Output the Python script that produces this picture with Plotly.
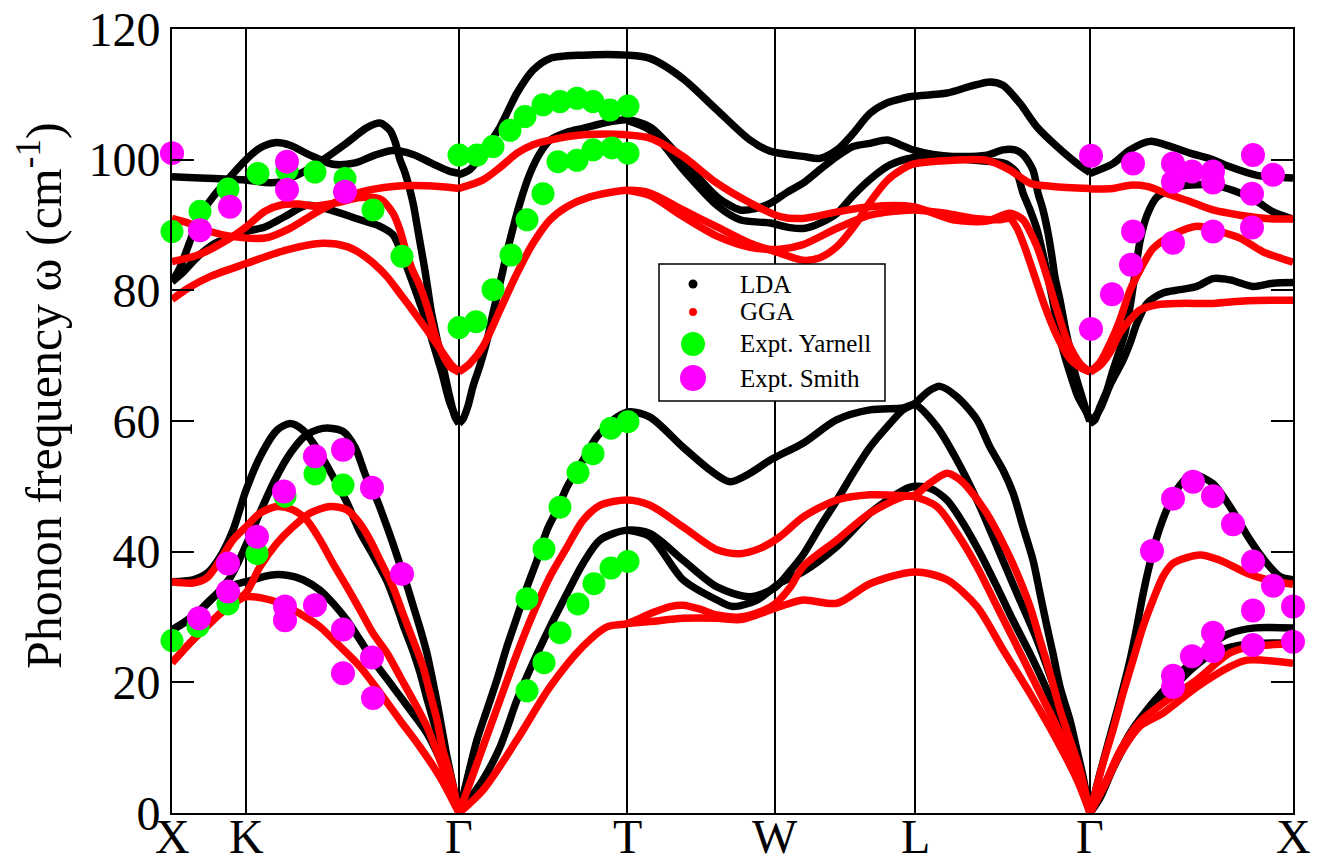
import plotly.graph_objects as go

FONT = "Liberation Serif"

# ---------------- k-path (high-symmetry points) ----------------
KPTS = [0, 74, 287, 455, 603, 743, 918, 1121]
KLABELS = ["X", "K", "Γ", "T", "W", "L", "Γ", "X"]

# ---------------- LDA bands (k, omega in cm^-1) ----------------
# X-K-Gamma, optical
LDA_XG_O1 = [(0, 97.4), (28, 97.2), (58, 97.0), (74, 96.9), (93, 96.5), (108, 96.6), (123, 97.5), (138, 98.7),
             (155, 100.4), (175, 102.6), (195, 104.9), (208, 105.6), (218, 104.5), (223, 102.8), (228, 100.0),
             (233, 98.0), (241, 93.4), (245, 90.0), (249, 86.5), (253, 83.0), (256, 80.0), (259, 77.0),
             (263, 74.0), (268, 70.5), (273, 67.0), (278, 63.5), (283, 60.6), (287, 59.6)]
LDA_XG_O2 = [(0, 81.3), (8, 83.5), (18, 87.5), (28, 91.5), (42, 94.5), (56, 97.0), (74, 100.0), (88, 101.8),
             (103, 102.6), (118, 102.2), (138, 100.7), (161, 99.3), (183, 99.5), (203, 100.7), (221, 101.4),
             (241, 100.8), (263, 99.2), (278, 98.2), (287, 97.9)]
LDA_XG_O3 = [(0, 81.3), (10, 82.6), (26, 85.2), (43, 87.2), (60, 88.2), (74, 89.0), (93, 89.7), (113, 91.3),
             (135, 93.0), (158, 92.3), (188, 90.8), (208, 89.8), (221, 88.5), (228, 86.3), (235, 83.5),
             (241, 81.0), (248, 78.0), (255, 75.0), (261, 71.9), (270, 67.3), (278, 62.7), (287, 59.6)]
# X-K-Gamma, acoustic
LDA_XG_A1 = [(0, 35.4), (21, 35.7), (35, 36.7), (48, 39.2), (61, 43.3), (74, 49.4), (88, 54.5), (105, 58.6),
             (118, 59.6), (131, 58.6), (146, 55.5), (161, 51.5), (175, 47.5), (188, 43.0), (201, 39.5),
             (215, 35.5), (225, 31.5), (233, 28.0), (241, 24.8), (248, 21.5), (255, 17.5), (265, 12.2),
             (275, 7.1), (281, 3.5), (287, 0.0)]
LDA_XG_A2 = [(0, 28.0), (28, 31.0), (58, 36.0), (74, 41.0), (88, 46.0), (103, 51.0), (118, 55.0), (133, 57.7),
             (146, 58.7), (158, 58.9), (171, 58.4), (183, 56.0), (194, 51.5), (205, 47.9), (215, 43.8),
             (221, 41.2), (228, 38.0), (235, 34.8), (241, 31.8), (248, 28.3), (255, 24.4), (260, 20.8),
             (265, 17.0), (270, 12.8), (275, 8.6), (281, 4.3), (287, 0.0)]
LDA_XG_A3 = [(0, 28.0), (21, 30.0), (38, 32.6), (55, 34.6), (74, 35.4), (98, 36.4), (115, 36.4), (131, 35.7),
             (148, 34.1), (161, 32.1), (175, 29.5), (188, 26.5), (201, 23.4), (221, 19.3), (238, 15.8),
             (255, 12.2), (271, 7.1), (287, 0.0)]
# Gamma-T-W-L-Gamma, optical
LDA_GG_O1 = [(287, 97.7), (298, 98.5), (311, 101.0), (328, 105.0), (345, 110.2), (361, 113.7), (378, 115.5),
             (411, 116.0), (455, 116.0), (478, 115.5), (511, 112.4), (545, 107.6), (578, 103.0), (598, 101.3),
             (631, 100.5), (648, 100.2), (665, 101.5), (681, 104.0), (698, 107.1), (715, 108.7), (731, 109.4),
             (741, 109.7), (775, 110.2), (798, 111.2), (818, 111.9), (831, 111.4), (848, 108.6), (865, 105.0),
             (885, 102.0), (905, 99.4), (918, 98.0)]
LDA_GG_O2 = [(287, 59.6), (291, 60.3), (296, 62.3), (301, 65.3), (308, 68.5), (315, 72.3), (321, 76.5),
             (328, 81.1), (338, 87.7), (348, 93.4), (358, 97.9), (368, 101.0), (378, 103.0), (395, 104.2),
             (411, 104.8), (438, 105.8), (455, 106.1), (478, 105.0), (511, 99.9), (545, 94.3), (568, 92.3),
             (583, 92.5), (598, 93.3), (615, 95.0), (631, 96.4), (648, 98.5), (665, 100.5), (681, 102.0),
             (698, 102.5), (715, 103.0), (728, 102.3), (741, 101.5), (761, 100.8), (781, 100.5), (815, 100.7),
             (831, 101.5), (843, 101.5), (851, 100.8), (861, 98.4), (866, 94.9), (871, 92.3), (876, 88.8),
             (880, 85.1), (883, 82.0), (888, 78.5), (893, 74.4), (898, 70.9), (903, 67.3), (910, 63.7),
             (915, 61.2), (918, 60.0)]
LDA_GG_O3 = [(455, 106.0), (478, 104.5), (511, 98.5), (545, 93.0), (568, 90.8), (598, 90.3), (618, 89.6),
             (633, 89.5), (648, 90.3), (665, 91.8), (681, 94.5), (698, 97.0), (718, 99.2), (741, 100.3),
             (763, 100.4), (783, 100.2), (803, 99.9), (831, 99.5), (838, 99.0), (845, 97.9), (851, 94.9),
             (858, 92.3), (865, 89.3), (870, 86.2), (875, 82.7), (880, 79.0), (885, 75.0), (891, 70.9),
             (898, 67.3), (906, 63.7), (915, 61.2), (918, 60.0)]
# Gamma-T-W-L-Gamma, acoustic
LDA_GG_A1 = [(287, 0.0), (295, 5.1), (305, 11.2), (315, 15.8), (325, 20.4), (335, 25.5), (345, 30.0),
             (355, 34.6), (365, 38.7), (375, 43.3), (385, 46.4), (395, 49.9), (411, 54.0), (425, 57.6),
             (445, 60.6), (458, 61.4), (478, 60.6), (511, 56.0), (538, 52.5), (558, 50.7), (578, 52.0),
             (598, 54.0), (608, 54.8), (631, 56.6), (665, 60.2), (698, 61.7), (731, 62.0), (743, 62.5),
             (765, 59.1), (785, 54.0), (805, 47.9), (825, 40.8), (845, 33.6), (865, 26.5), (885, 18.0),
             (901, 10.5), (918, 0.0)]
LDA_GG_A2 = [(287, 0.0), (311, 5.1), (328, 10.1), (345, 17.3), (361, 23.0), (378, 28.5), (395, 33.6),
             (411, 38.2), (428, 41.8), (455, 43.3), (478, 42.8), (511, 38.7), (545, 34.6), (578, 33.1),
             (603, 34.5), (618, 37.0), (631, 39.5), (648, 43.8), (665, 47.9), (681, 52.0), (698, 56.0),
             (715, 59.1), (731, 61.7), (743, 62.7), (756, 64.5), (768, 65.3), (785, 63.7), (805, 60.2),
             (818, 56.0), (831, 52.5), (841, 49.0), (851, 43.8), (861, 38.7), (868, 33.6), (875, 28.5),
             (881, 24.4), (888, 19.3), (898, 14.2), (905, 9.6), (911, 5.6), (918, 0.0)]
LDA_GG_A3 = [(455, 43.3), (478, 42.3), (511, 35.7), (545, 32.6), (561, 31.6), (585, 32.6), (608, 35.2),
             (631, 36.9), (665, 40.8), (698, 45.9), (731, 49.4), (743, 50.0), (758, 49.7), (775, 47.9),
             (791, 44.4), (808, 39.8), (825, 34.6), (841, 29.5), (858, 24.4), (875, 18.8), (891, 12.7),
             (905, 7.1), (918, 0.0)]
# Gamma-X, optical
LDA_GX_O1 = [(918, 97.9), (941, 99.4), (958, 101.5), (978, 102.8), (995, 102.2), (1018, 101.0), (1041, 100.0),
             (1058, 98.9), (1085, 97.6), (1121, 97.2)]
LDA_GX_O2 = [(918, 59.6), (923, 60.2), (928, 62.2), (935, 64.7), (941, 67.8), (948, 71.0), (953, 73.5),
             (958, 77.5), (963, 82.5), (968, 87.5), (975, 91.5), (985, 94.3), (1008, 95.9), (1041, 96.1),
             (1068, 94.9), (1085, 93.6), (1101, 92.0), (1121, 90.9)]
LDA_GX_O3 = [(918, 59.6), (928, 61.8), (938, 65.5), (951, 69.3), (958, 71.9), (965, 75.0), (975, 78.0),
             (991, 79.6), (1008, 80.1), (1025, 80.6), (1041, 81.8), (1058, 81.6), (1081, 80.6), (1101, 81.1),
             (1121, 81.2)]
# Gamma-X, acoustic
LDA_GX_A1 = [(918, 0.0), (928, 6.1), (938, 11.7), (948, 17.3), (958, 23.4), (965, 28.6), (971, 33.5),
             (978, 38.3), (985, 42.3), (995, 46.5), (1008, 50.2), (1021, 51.8), (1041, 50.4), (1058, 46.9),
             (1078, 41.8), (1095, 38.2), (1108, 36.2), (1121, 35.7)]
LDA_GX_A2 = [(918, 0.0), (928, 2.5), (941, 7.1), (958, 12.2), (975, 15.8), (995, 19.3), (1018, 22.9),
             (1041, 26.0), (1058, 27.5), (1081, 28.3), (1121, 28.3)]
LDA_GX_A3 = [(918, 0.0), (928, 2.3), (941, 6.8), (958, 11.7), (975, 15.3), (995, 18.3), (1018, 21.8),
             (1041, 24.5), (1068, 25.7), (1093, 26.0), (1121, 26.0)]

# ---------------- GGA bands ----------------
GGA_XG_O1 = [(0, 91.0), (18, 90.2), (38, 89.0), (58, 88.3), (93, 88.0), (118, 89.5), (143, 91.8), (168, 93.8),
             (188, 95.0), (221, 95.9), (255, 96.0), (287, 95.6)]
GGA_XG_O2 = [(0, 84.4), (26, 85.4), (53, 87.5), (74, 89.7), (93, 92.1), (110, 93.1), (126, 93.2), (143, 92.9),
             (168, 93.5), (188, 94.2), (208, 94.0), (221, 91.8), (228, 89.2), (233, 86.5), (240, 83.3),
             (246, 81.3), (251, 79.4), (258, 76.0), (263, 73.2), (270, 70.4), (278, 68.3), (287, 67.5)]
GGA_XG_O3 = [(0, 78.6), (18, 80.5), (38, 82.1), (74, 84.1), (115, 86.2), (151, 87.2), (175, 86.7), (188, 85.7),
             (201, 84.2), (215, 82.1), (228, 79.5), (238, 77.5), (255, 73.9), (271, 70.4), (280, 68.5),
             (287, 67.6)]
GGA_XG_A1 = [(0, 35.4), (21, 35.2), (35, 36.0), (48, 38.7), (61, 41.8), (74, 43.8), (88, 45.9), (105, 46.9),
             (121, 46.4), (135, 44.8), (148, 41.8), (161, 38.2), (175, 34.6), (188, 31.1), (201, 27.5),
             (215, 24.5), (228, 20.9), (241, 17.3), (255, 13.2), (268, 8.1), (281, 2.5), (287, 0.0)]
GGA_XG_A2 = [(0, 23.0), (21, 26.5), (41, 29.5), (55, 31.6), (74, 33.7), (88, 37.7), (105, 41.3), (121, 43.8),
             (138, 45.9), (158, 46.9), (175, 46.4), (188, 44.3), (198, 41.8), (208, 38.7), (221, 34.6),
             (231, 30.5), (241, 26.5), (251, 22.4), (258, 18.3), (265, 14.2), (271, 9.6), (278, 6.0),
             (287, 0.0)]
GGA_XG_A3 = [(0, 23.0), (21, 26.5), (41, 29.5), (55, 31.3), (74, 33.1), (105, 32.3), (128, 30.5), (148, 28.5),
             (168, 25.5), (188, 22.4), (208, 18.4), (228, 14.2), (248, 10.1), (268, 5.5), (287, 0.0)]
GGA_GG_O1 = [(287, 95.6), (311, 96.9), (328, 98.8), (345, 101.0), (361, 102.3), (378, 103.0), (411, 103.8),
             (455, 103.8), (478, 103.3), (511, 100.5), (545, 96.4), (578, 93.4), (608, 91.3), (631, 91.0),
             (665, 92.0), (698, 92.8), (741, 92.8), (781, 90.8), (815, 90.6), (838, 91.8), (851, 90.8),
             (858, 89.0), (865, 86.7), (875, 82.1), (885, 77.0), (895, 72.4), (908, 68.8), (918, 67.5)]
GGA_GG_O2 = [(287, 67.5), (298, 68.8), (311, 71.4), (328, 77.0), (345, 82.6), (361, 87.2), (378, 90.8),
             (395, 92.8), (418, 94.3), (455, 95.3), (478, 94.9), (511, 92.3), (545, 89.7), (578, 87.2),
             (608, 85.7), (631, 84.6), (648, 85.0), (665, 86.7), (683, 90.0), (698, 93.5), (715, 96.8),
             (731, 98.6), (741, 99.3), (781, 99.9), (815, 99.9), (838, 98.4), (858, 96.4), (881, 95.9),
             (918, 95.6)]
GGA_GG_O3 = [(455, 95.3), (478, 94.5), (511, 91.3), (545, 88.3), (578, 86.6), (608, 86.3), (631, 87.0),
             (665, 89.5), (698, 91.5), (741, 92.3), (773, 91.8), (803, 91.0), (828, 90.8), (838, 91.0),
             (845, 89.5), (853, 86.5), (863, 82.0), (873, 77.5), (885, 73.0), (898, 69.5), (908, 68.2),
             (918, 67.5)]
GGA_GG_A1 = [(287, 0.0), (305, 7.6), (328, 17.3), (345, 24.4), (361, 30.5), (378, 36.2), (395, 40.7),
             (411, 44.8), (428, 47.1), (455, 47.9), (478, 47.1), (511, 43.8), (545, 40.3), (568, 39.7),
             (588, 40.5), (608, 42.3), (631, 45.3), (665, 47.9), (698, 48.7), (728, 48.6), (743, 48.4),
             (765, 46.9), (785, 42.8), (805, 37.7), (825, 31.6), (845, 25.5), (865, 19.3), (885, 13.2),
             (905, 6.6), (918, 0.0)]
GGA_GG_A2 = [(287, 0.0), (311, 3.5), (345, 11.2), (378, 19.3), (411, 25.5), (435, 28.5), (455, 29.0),
             (478, 30.5), (498, 31.6), (511, 31.8), (528, 31.2), (545, 30.3), (568, 30.0), (588, 30.8),
             (603, 32.0), (618, 34.5), (631, 37.7), (665, 41.8), (698, 45.9), (731, 48.4), (743, 48.7),
             (758, 50.5), (775, 52.0), (788, 51.0), (798, 49.4), (815, 45.8), (831, 41.3), (845, 36.7),
             (858, 31.6), (868, 26.5), (878, 21.4), (888, 15.8), (898, 11.2), (908, 6.6), (918, 0.0)]
GGA_GG_A3 = [(455, 29.0), (478, 29.3), (511, 29.8), (545, 29.8), (568, 29.6), (588, 30.5), (608, 31.6),
             (631, 32.6), (665, 32.1), (698, 35.1), (743, 36.9), (775, 35.7), (805, 31.6), (831, 25.0),
             (858, 18.3), (881, 12.2), (905, 5.1), (918, 0.0)]
GGA_GX_O1 = [(918, 95.5), (941, 95.6), (958, 96.1), (975, 95.9), (995, 94.8), (1018, 93.6), (1041, 92.3),
             (1068, 91.5), (1095, 91.0), (1121, 90.9)]
GGA_GX_O2 = [(918, 67.5), (928, 69.0), (938, 71.9), (948, 75.5), (958, 80.0), (968, 83.1), (981, 86.4),
             (1001, 88.5), (1025, 89.8), (1048, 89.0), (1068, 88.0), (1091, 85.9), (1121, 84.3)]
GGA_GX_O3 = [(918, 67.5), (928, 68.5), (938, 70.5), (948, 73.5), (958, 75.5), (968, 77.0), (985, 77.8),
             (1008, 78.0), (1041, 78.0), (1075, 78.4), (1121, 78.5)]
GGA_GX_A1 = [(918, 0.0), (931, 7.6), (941, 12.7), (951, 18.3), (961, 23.4), (971, 28.5), (981, 32.6),
             (991, 36.2), (1001, 38.2), (1028, 39.5), (1048, 38.7), (1075, 36.7), (1095, 35.7), (1121, 35.0)]
GGA_GX_A2 = [(918, 0.0), (933, 4.5), (948, 9.5), (968, 14.0), (991, 16.8), (1025, 20.4), (1058, 24.5),
             (1081, 25.5), (1121, 25.9)]
GGA_GX_A3 = [(918, 0.0), (933, 4.3), (948, 9.0), (968, 13.3), (991, 15.3), (1025, 19.3), (1058, 22.4),
             (1075, 23.4), (1121, 22.9)]

# ---------------- Experimental points ----------------
YARNELL = [(0, 89.0), (28, 92.1), (56, 95.5), (86, 97.9), (115, 98.4), (143, 98.1), (173, 97.1), (201, 92.3),
           (230, 85.2),
           (287, 100.7), (305, 100.7), (321, 102.0), (338, 104.5), (353, 106.6), (371, 108.4), (388, 108.9),
           (405, 109.4), (421, 108.9), (438, 107.6), (456, 108.2),
           (386, 99.7), (405, 99.9), (421, 101.5), (440, 101.8), (456, 101.0),
           (371, 94.8), (355, 90.8), (339, 85.4), (321, 80.1), (304, 75.2), (287, 74.3),
           (0, 26.4), (26, 28.6), (56, 32.0), (85, 39.7), (113, 48.5), (143, 51.9), (171, 50.2),
           (456, 59.9), (439, 58.9), (421, 55.0), (406, 52.1), (388, 46.8), (372, 40.4), (355, 32.8),
           (456, 38.5), (439, 37.5), (422, 35.1), (406, 32.0), (388, 27.6), (372, 23.0), (355, 18.7)]
SMITH = [(0, 101.0), (28, 89.2), (58, 92.8), (115, 99.7), (115, 95.4), (173, 95.1),
         (919, 100.6), (961, 99.4), (1001, 99.4), (1001, 96.6), (1020, 98.2), (1041, 98.2), (1041, 96.5),
         (1081, 100.7), (1101, 97.7), (1080, 94.8), (1080, 89.6), (1041, 89.0), (1001, 87.3), (961, 89.0),
         (959, 83.9), (940, 79.4), (919, 74.1),
         (27, 29.8), (56, 38.2), (56, 33.9), (85, 42.3), (112, 49.2), (143, 54.6), (171, 55.6), (200, 49.8),
         (230, 36.6), (113, 31.6), (113, 29.5), (143, 31.8), (171, 28.1), (171, 21.4), (200, 23.8),
         (201, 17.6),
         (1021, 50.7), (1001, 48.1), (1041, 48.5), (1061, 44.2), (980, 40.1), (1081, 38.5), (1101, 34.8),
         (1121, 31.6), (1081, 31.0), (1041, 27.6), (1041, 24.8), (1020, 24.0), (1001, 21.0), (1001, 19.3),
         (1081, 25.7), (1121, 26.2)]

LEGEND_NAMES = ["LDA", "GGA", "Expt. Yarnell", "Expt. Smith"]

LDA_BANDS = [LDA_XG_O1, LDA_XG_O2, LDA_XG_O3, LDA_XG_A1, LDA_XG_A2, LDA_XG_A3,
             LDA_GG_O1, LDA_GG_O2, LDA_GG_O3, LDA_GG_A1, LDA_GG_A2, LDA_GG_A3,
             LDA_GX_O1, LDA_GX_O2, LDA_GX_O3, LDA_GX_A1, LDA_GX_A2, LDA_GX_A3]
GGA_BANDS = [GGA_XG_O1, GGA_XG_O2, GGA_XG_O3, GGA_XG_A1, GGA_XG_A2, GGA_XG_A3,
             GGA_GG_O1, GGA_GG_O2, GGA_GG_O3, GGA_GG_A1, GGA_GG_A2, GGA_GG_A3,
             GGA_GX_O1, GGA_GX_O2, GGA_GX_O3, GGA_GX_A1, GGA_GX_A2, GGA_GX_A3]

fig = go.Figure()


def add_bands(bands, color):
    for band in bands:
        k, w = zip(*band)
        fig.add_trace(go.Scatter(x=list(k), y=list(w), mode="lines",
                                 line=dict(color=color, width=7.5, shape="spline", smoothing=0.8),
                                 showlegend=False, hoverinfo="skip"))


add_bands(LDA_BANDS, "#000000")
add_bands(GGA_BANDS, "#ff0000")

for pts, color, size in [(YARNELL, "#00ff00", 23), (SMITH, "#ff00ff", 24)]:
    k, w = zip(*pts)
    fig.add_trace(go.Scatter(x=list(k), y=list(w), mode="markers", cliponaxis=False,
                             marker=dict(color=color, size=size, line=dict(width=0)),
                             showlegend=False, hoverinfo="skip"))

# ---------------- manual legend (box + symbols + text) ----------------
shapes = [dict(type="rect", xref="x", yref="y", x0=487, x1=713, y0=63.06, y1=84.03,
               fillcolor="white", line=dict(color="black", width=1.5), layer="above")]
leg_y = [80.97, 76.69, 71.79, 66.58]
leg_col = ["#000000", "#ff0000", "#00ff00", "#ff00ff"]
leg_d = [9, 8, 24, 26]
annotations = []
for name, yy, c, d in zip(LEGEND_NAMES, leg_y, leg_col, leg_d):
    shapes.append(dict(type="circle", xref="x", yref="y", xsizemode="pixel", ysizemode="pixel",
                       xanchor=521, yanchor=yy, x0=-d / 2, x1=d / 2, y0=-d / 2, y1=d / 2,
                       fillcolor=c, line=dict(width=0), layer="above"))
    annotations.append(dict(x=566, y=yy, xref="x", yref="y", text=name, showarrow=False,
                            xanchor="left", yanchor="middle",
                            font=dict(family=FONT, size=25, color="black")))

# k-point labels below the axis
for kx, lab in zip(KPTS, KLABELS):
    annotations.append(dict(x=kx, y=-0.0295, xref="x", yref="paper", text=lab, showarrow=False,
                            xanchor="center", yanchor="middle",
                            font=dict(family=FONT, size=48, color="black")))

annotations.append(dict(x=-0.1178, y=0.533, xref="paper", yref="paper",
                        text="Phonon frequency ω (cm<sup>-1</sup>)", textangle=-90, showarrow=False,
                        xanchor="center", yanchor="middle",
                        font=dict(family=FONT, size=50, color="black")))

fig.update_layout(
    width=1321, height=863, autosize=False,
    margin=dict(l=172, r=28, t=29, b=50, autoexpand=False),
    paper_bgcolor="white", plot_bgcolor="white",
    showlegend=False,
    shapes=shapes, annotations=annotations,
    font=dict(family=FONT, color="black"),
)
fig.update_xaxes(range=[0, 1121], tickmode="array", tickvals=KPTS, showticklabels=False,
                 showgrid=True, gridcolor="black", gridwidth=1.5, automargin=False,
                 showline=True, linecolor="black", linewidth=2, mirror=True,
                 ticks="", zeroline=False)
fig.update_yaxes(range=[0, 120], tickmode="linear", tick0=0, dtick=20, automargin=False,
                 showgrid=False, showline=True, linecolor="black", linewidth=2, mirror="ticks",
                 ticks="inside", ticklen=22, tickwidth=2, tickcolor="black", zeroline=False,
                 tickfont=dict(family=FONT, size=48, color="black"))

fig.write_html("out.html", config={"displayModeBar": False},
               post_script="document.body.style.margin='0px';")
